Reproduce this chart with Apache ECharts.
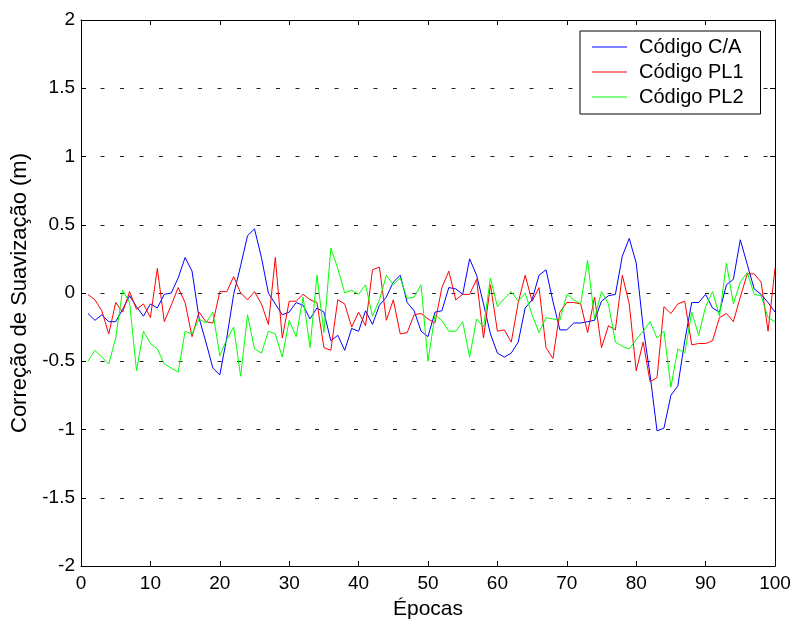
<!DOCTYPE html>
<html><head><meta charset="utf-8">
<script src="https://cdn.jsdelivr.net/npm/echarts@6/dist/echarts.min.js"></script>
<style>html,body{margin:0;padding:0;background:#fff}#c{width:794px;height:623px}</style>
</head><body><div id="c"></div>
<script>
const epocas = Array.from({length:100},(_,i)=>i+1);
const codigoCA = [-0.15,-0.2,-0.16,-0.21,-0.21,-0.12,-0.02,-0.1,-0.17,-0.08,
-0.11,-0.01,0,0.11,0.26,0.16,-0.18,-0.36,-0.55,-0.6,
-0.33,-0.01,0.2,0.42,0.47,0.26,0,-0.08,-0.16,-0.14,
-0.07,-0.09,-0.19,-0.11,-0.14,-0.35,-0.31,-0.42,-0.26,-0.28,
-0.13,-0.23,-0.09,-0.03,0.08,0.13,-0.07,-0.13,-0.28,-0.32,
-0.14,-0.13,0.04,0.03,-0.01,0.25,0.13,-0.08,-0.3,-0.44,
-0.47,-0.44,-0.36,-0.11,-0.05,0.13,0.17,-0.06,-0.27,-0.27,
-0.22,-0.22,-0.21,-0.2,-0.06,-0.02,-0.01,0.27,0.4,0.22,
-0.25,-0.6,-1.01,-0.99,-0.75,-0.68,-0.35,-0.07,-0.07,-0.01,
-0.11,-0.14,0.06,0.1,0.39,0.21,0.03,-0.01,-0.07,-0.14];
const codigoPL1 = [-0.01,-0.05,-0.13,-0.3,-0.07,-0.14,0.01,-0.12,-0.08,-0.18,
0.18,-0.21,-0.09,0.04,-0.07,-0.32,-0.14,-0.21,-0.22,0.01,
0.01,0.12,0,-0.05,0.01,-0.08,-0.23,0.26,-0.33,-0.06,
-0.06,-0.01,-0.05,-0.07,-0.4,-0.42,-0.05,-0.08,-0.25,-0.14,
-0.24,0.17,0.19,-0.2,-0.05,-0.3,-0.29,-0.16,-0.15,-0.19,
-0.22,0.04,0.16,-0.05,-0.01,-0.01,0.1,-0.33,0.06,-0.28,
-0.27,-0.36,-0.07,0.13,-0.06,0.04,-0.4,-0.48,-0.14,-0.07,
-0.07,-0.08,-0.29,-0.03,-0.4,-0.24,-0.27,0.13,-0.08,-0.57,
-0.36,-0.65,-0.62,-0.1,-0.15,-0.08,-0.06,-0.38,-0.37,-0.37,
-0.35,-0.18,-0.15,-0.21,-0.03,0.14,0.14,0.08,-0.28,0.18];
const codigoPL2 = [-0.5,-0.42,-0.47,-0.52,-0.33,0.02,-0.07,-0.57,-0.28,-0.37,
-0.41,-0.52,-0.55,-0.58,-0.28,-0.3,-0.19,-0.22,-0.14,-0.46,
-0.34,-0.25,-0.61,-0.16,-0.41,-0.44,-0.28,-0.3,-0.47,-0.2,
-0.32,-0.03,-0.4,0.13,-0.29,0.33,0.18,0,0.02,-0.01,
0.06,-0.17,-0.05,0.13,0.06,0.11,-0.04,-0.03,0.06,-0.5,
-0.16,-0.2,-0.28,-0.28,-0.21,-0.47,-0.19,-0.25,0.11,-0.1,
-0.04,0.01,-0.06,0,-0.16,-0.29,-0.18,-0.19,-0.2,-0.01,
-0.05,-0.08,0.24,-0.19,0.01,-0.08,-0.36,-0.39,-0.41,-0.34,
-0.28,-0.21,-0.33,-0.28,-0.69,-0.41,-0.44,-0.14,-0.31,-0.1,
0.01,-0.17,0.22,-0.08,0.08,0.15,-0.01,-0.02,-0.18,-0.21];
const seriesNames = ['Código C/A','Código PL1','Código PL2'];
const seriesColors = ['#0000ff','#ff0000','#00ff00'];
const seriesData = [codigoCA, codigoPL1, codigoPL2];

const font = 'Liberation Sans, Arial, sans-serif';
const chart = echarts.init(document.getElementById('c'));
const axisLine = {show:true, onZero:false, lineStyle:{color:'#000', width:1}};
const tick = {show:true, inside:true, length:5, lineStyle:{color:'#000'}};
chart.setOption({
  animation:false,
  backgroundColor:'#fff',
  grid:{left:81, right:19, top:20, bottom:57, show:false, containLabel:false, outerBoundsMode:'none'},
  legend:{
    orient:'vertical', left:580, top:31,
    backgroundColor:'#fff', borderColor:'#000', borderWidth:1,
    padding:[6,17,7,12], itemGap:5, itemWidth:35, itemHeight:1,
    icon:'rect',
    textStyle:{fontFamily:font, fontSize:20, color:'#000', padding:[0,0,0,7]},
    data:seriesNames
  },
  xAxis:[{
    type:'value', min:0, max:100, interval:10, position:'bottom',
    name:'Épocas', nameLocation:'middle', nameGap:33,
    nameTextStyle:{fontFamily:font, fontSize:21, color:'#000'},
    axisLine:axisLine, axisTick:tick,
    axisLabel:{fontFamily:font, fontSize:19, color:'#000', margin:8},
    splitLine:{show:false}
  },{
    type:'value', min:0, max:100, interval:10, position:'top',
    axisLine:axisLine, axisTick:tick, axisLabel:{show:false}, splitLine:{show:false}
  }],
  yAxis:[{
    type:'value', min:-2, max:2, interval:0.5, position:'left',
    name:'Correção de Suavização (m)', nameLocation:'middle', nameGap:50,
    nameTextStyle:{fontFamily:font, fontSize:22, color:'#000'},
    axisLine:axisLine, axisTick:tick,
    axisLabel:{fontFamily:font, fontSize:19, color:'#000', margin:6},
    splitLine:{show:true, lineStyle:{color:'#222', width:1, type:[4,15.5]}}
  },{
    type:'value', min:-2, max:2, interval:0.5, position:'right',
    axisLine:axisLine, axisTick:tick, axisLabel:{show:false}, splitLine:{show:false}
  }],
  series: seriesNames.map((n,i)=>({
    name:n, type:'line', symbol:'none', showSymbol:false,
    lineStyle:{color:seriesColors[i], width:1}, itemStyle:{color:seriesColors[i]},
    data: epocas.map((e,j)=>[e, seriesData[i][j]])
  }))
});
</script></body></html>
